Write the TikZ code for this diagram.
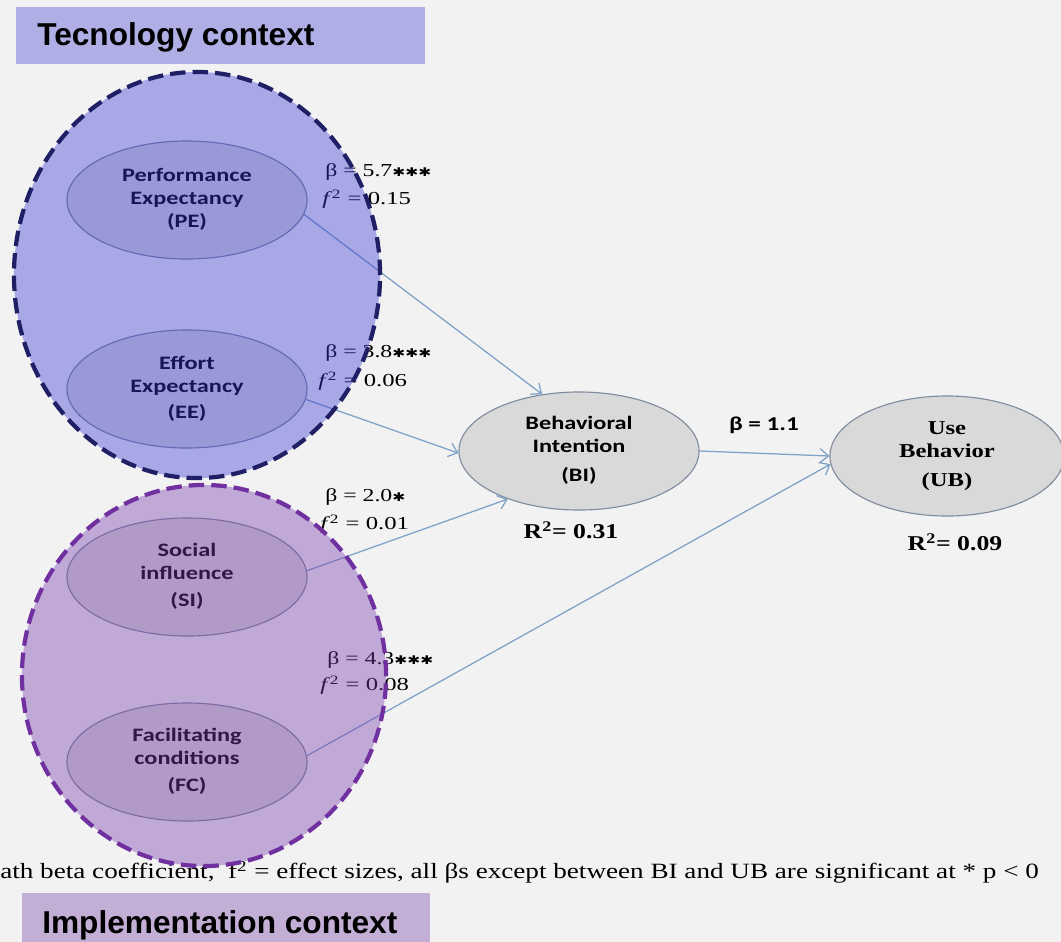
\documentclass[tikz,border=0pt]{standalone}
\usepackage{fontspec}
\setmainfont{Liberation Serif}
\newfontfamily\carfont{Carlito}
\newfontfamily\arialf{Liberation Sans}
\newfontfamily\djvfont{DejaVu Sans}
\usetikzlibrary{shapes.geometric,arrows.meta}
\definecolor{bgc}{HTML}{F2F2F2}
\definecolor{nodefill}{HTML}{D9D9D9}
\definecolor{nodeedge}{HTML}{7F8C9E}
\definecolor{arrowc}{HTML}{7FA2C8}
\definecolor{techfill}{RGB}{57,57,212}
\definecolor{techedge}{HTML}{1F1F66}
\definecolor{implfill}{RGB}{120,60,175}
\definecolor{impledge}{HTML}{7030A0}
\definecolor{techbox}{HTML}{AFAFE6}
\definecolor{implbox}{HTML}{C3AED6}
\newcommand\hs[2][1.28]{\scalebox{#1}[1]{#2}}
\newcommand\ntext[2][1.28]{\scalebox{#1}[1]{\begin{tabular}{@{}c@{}}#2\end{tabular}}}
\newcommand\stars[1]{{\djvfont\fontsize{8.5}{8.5}\selectfont #1}}
\begin{document}
\begin{tikzpicture}[x=0.025cm,y=-0.025cm,
  cnode/.style={ellipse, draw=nodeedge, line width=0.8pt, fill=nodefill,
    minimum width=6cm, minimum height=2.95cm, inner sep=0pt, align=center,
    font=\carfont\bfseries\fontsize{13.5}{16.5}\selectfont},
  unode/.style={cnode, font=\bfseries\fontsize{14}{16.5}\selectfont, minimum width=5.85cm, minimum height=3cm},
  path/.style={draw=arrowc, line width=0.9pt, -{Straight Barb[length=6pt,width=10pt]}},
  lbl/.style={anchor=west, inner sep=0pt, font=\fontsize{13}{15}\selectfont},
  rlbl/.style={anchor=center, inner sep=0pt, font=\bfseries\fontsize{15}{17}\selectfont},
  overlay/.style={line width=3pt, dash pattern=on 11pt off 5pt, fill opacity=0.4},
  ctxtext/.style={anchor=west, inner sep=0pt, font=\arialf\bfseries\fontsize{22.5}{24}\selectfont}
]
\useasboundingbox (0,0) rectangle (1061,942);
\clip (0,0) rectangle (1061,942);
\fill[bgc] (0,0) rectangle (1061,942);

% caption
\node[anchor=west, inner sep=0pt, font=\fontsize{15.5}{17}\selectfont] (cap) at (0,872)
  {\hs[1.245]{ath beta coefficient,\ \ f\textsuperscript{2} = effect sizes, all βs except between BI and UB are significant at * p < 0}};

% nodes
\node[cnode] (PE) at (187,200) {\ntext{Performance\\Expectancy\\(PE)}};
\node[cnode] (EE) at (187,389) {\ntext{Effort\\Expectancy\\[2pt](EE)}};
\node[cnode] (SI) at (187,577) {\ntext{Social\\influence\\[3pt](SI)}};
\node[cnode] (FC) at (187,762) {\ntext{Facilitating\\conditions\\[3pt](FC)}};
\node[cnode] (BI) at (579,451) {\ntext{Behavioral\\Intention\\[4pt](BI)}};
\node[unode] (UB) at (947,456) {\ntext[1.25]{Use\\Behavior\\[4pt](UB)}};

% connectors
\draw[path] (PE.-7) -- (BI.123);
\draw[path] (EE.-5) -- (BI.181);
\draw[path] (SI.3) -- (BI.214);
\draw[path] (FC.3) -- (UB.184);
\draw[path] (BI.east) -- (UB.west);

% labels
\node[lbl] (l1a) at (325,172) {\hs[1.3]{β = 5.7\stars{✱✱✱}}};
\node[lbl] (l1b) at (322,199) {\hs[1.35]{\textit{f}\textsuperscript{2} = 0.15}};
\node[lbl] (l2a) at (325,353) {\hs[1.3]{β = 3.8\stars{✱✱✱}}};
\node[lbl] (l2b) at (318,381) {\hs[1.35]{\textit{f}\textsuperscript{2} = 0.06}};
\node[lbl] (l3a) at (325,497) {\hs[1.3]{β = 2.0\stars{✱}}};
\node[lbl] (l3b) at (320,524) {\hs[1.35]{\textit{f}\textsuperscript{2} = 0.01}};
\node[lbl] (l4a) at (327,660) {\hs[1.3]{β = 4.3\stars{✱✱✱}}};
\node[lbl] (l4b) at (320,685) {\hs[1.35]{\textit{f}\textsuperscript{2} = 0.08}};
\node[anchor=center, inner sep=0pt, font=\carfont\bfseries\fontsize{14}{17}\selectfont] (b11) at (764,425) {\hs{β = 1.1}};
\node[rlbl] (r1) at (571,530) {\hs[1.22]{R\textsuperscript{2}= 0.31}};
\node[rlbl] (r2) at (955,542) {\hs[1.22]{R\textsuperscript{2}= 0.09}};

% context overlays
\path[overlay, fill=techfill, draw=techedge] (197,275) ellipse [x radius=4.575cm, y radius=5.075cm];
\path[overlay, fill=implfill, draw=impledge] (204,675.5) ellipse [x radius=4.55cm, y radius=4.7625cm];

% context boxes
\fill[techbox] (16,7) rectangle (425,64);
\node[ctxtext] (tech) at (37,37) {Tecnology context};
\fill[implbox] (22,893) rectangle (430,950);
\node[ctxtext] (impl) at (42,925) {Implementation context};
\end{tikzpicture}
\end{document}
